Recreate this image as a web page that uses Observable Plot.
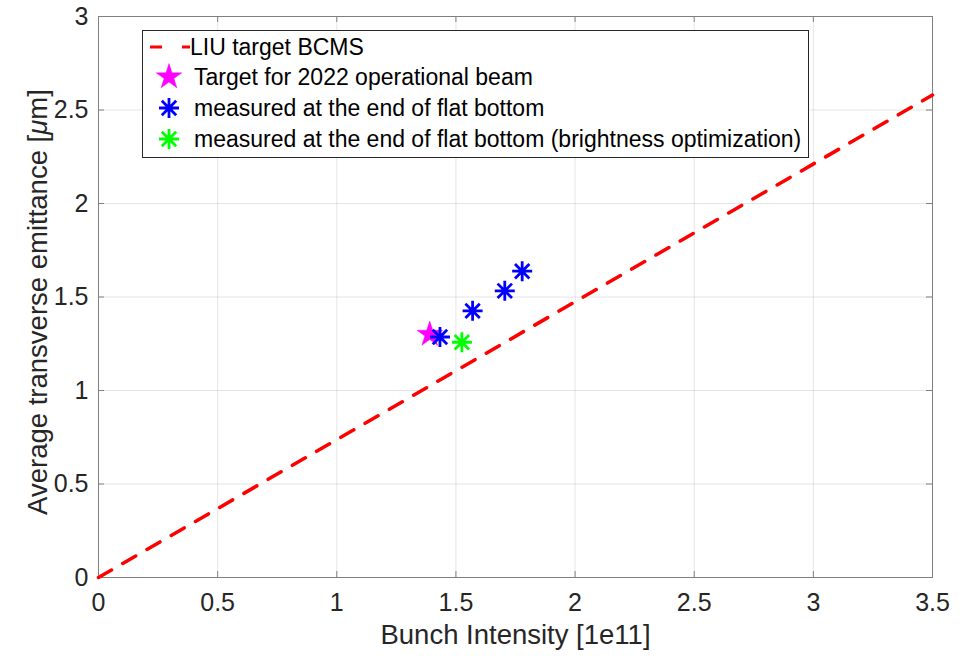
<!DOCTYPE html>
<html><head><meta charset="utf-8">
<script src="https://cdn.jsdelivr.net/npm/d3@7"></script>
<script src="https://cdn.jsdelivr.net/npm/@observablehq/plot@0.6"></script>
<style>body{margin:0;background:#fff;} #chart{width:970px;height:656px;}</style>
</head><body><div id="chart"></div>
<script>
// ---- data ----
const xTicks = [0, 0.5, 1, 1.5, 2, 2.5, 3, 3.5];
const xTickLabels = ["0", "0.5", "1", "1.5", "2", "2.5", "3", "3.5"];
const yTicks = [0, 0.5, 1, 1.5, 2, 2.5, 3];
const yTickLabels = ["0", "0.5", "1", "1.5", "2", "2.5", "3"];
const xTitle = "Bunch Intensity [1e11]";
const yTitle = "Average transverse emittance [μm]";

const liuX = [0, 3.5];
const liuY = [0, 2.58];
const targetX = [1.39];
const targetY = [1.30];
const measuredX = [1.433, 1.570, 1.705, 1.778];
const measuredY = [1.286, 1.426, 1.533, 1.638];
const brightX = [1.525];
const brightY = [1.258];

const legendLabels = [
  "LIU target BCMS",
  "Target for 2022 operational beam",
  "measured at the end of flat bottom",
  "measured at the end of flat bottom (brightness optimization)"
];
const seriesColors = ["#ff0000", "#ff00ff", "#0000ff", "#00ff00"];

// ---- build ----
const zip = (xs, ys) => xs.map((x, i) => ({x, y: ys[i]}));
const liu = zip(liuX, liuY);
const target = zip(targetX, targetY);
const measured = zip(measuredX, measuredY);
const bright = zip(brightX, brightY);

const asterisk = {
  draw(ctx, size) {
    const r = Math.sqrt(size / Math.PI);
    const d = r * 0.72;
    ctx.moveTo(-r, 0); ctx.lineTo(r, 0);
    ctx.moveTo(0, -r); ctx.lineTo(0, r);
    ctx.moveTo(-d, -d); ctx.lineTo(d, d);
    ctx.moveTo(-d, d); ctx.lineTo(d, -d);
  }
};

const W = 970, H = 656;
const mL = 98, mR = 38, mT = 16, mB = 79;
const plotW = W - mL - mR, plotH = H - mT - mB;
const tickLen = 6;
const axisGray = "#808080";
const textColor = "#262626";
const font = "'Liberation Sans', Arial, Helvetica, sans-serif";
const starR = 8, astR = 10;

const plot = Plot.plot({
  width: W, height: H,
  marginLeft: mL, marginRight: mR, marginTop: mT, marginBottom: mB,
  x: {domain: [0, 3.5]},
  y: {domain: [0, 3]},
  style: {fontFamily: font, background: "white", overflow: "visible"},
  marks: [
    Plot.gridX(xTicks, {stroke: "#000", strokeOpacity: 0.1}),
    Plot.gridY(yTicks, {stroke: "#000", strokeOpacity: 0.1}),
    Plot.frame({stroke: axisGray}),
    // inward ticks on all four sides
    Plot.tickX(xTicks, {x: d => d, insetTop: plotH - tickLen, stroke: axisGray}),
    Plot.tickX(xTicks, {x: d => d, insetBottom: plotH - tickLen, stroke: axisGray}),
    Plot.tickY(yTicks, {y: d => d, insetRight: plotW - tickLen, stroke: axisGray}),
    Plot.tickY(yTicks, {y: d => d, insetLeft: plotW - tickLen, stroke: axisGray}),
    Plot.axisX(xTicks, {tickSize: 0, tickPadding: 16, fontSize: 25, fill: textColor, label: null,
      tickFormat: d => xTickLabels[xTicks.indexOf(d)]}),
    Plot.axisY(yTicks, {tickSize: 0, tickPadding: 10, fontSize: 25, fill: textColor, label: null,
      tickFormat: d => yTickLabels[yTicks.indexOf(d)]}),
    Plot.text([xTitle], {text: d => d, frameAnchor: "bottom", textAnchor: "middle", lineAnchor: "middle",
      dy: 58, fontSize: 27.5, fill: textColor}),
    Plot.text([yTitle], {text: d => d, frameAnchor: "left", textAnchor: "middle", lineAnchor: "middle",
      rotate: -90, dx: -60, dy: 5, fontSize: 27.5, fill: textColor}),
    // data
    Plot.line(liu, {x: "x", y: "y", stroke: seriesColors[0], strokeWidth: 3.5, strokeDasharray: "15,13"}),
    Plot.dot(target, {x: "x", y: "y", symbol: "star", r: starR, fill: seriesColors[1], stroke: seriesColors[1], strokeWidth: 0.5}),
    Plot.dot(measured, {x: "x", y: "y", symbol: asterisk, r: astR, fill: "none", stroke: seriesColors[2], strokeWidth: 2.8}),
    Plot.dot(bright, {x: "x", y: "y", symbol: asterisk, r: astR, fill: "none", stroke: seriesColors[3], strokeWidth: 2.8})
  ]
});

document.getElementById("chart").appendChild(plot);

// italic mu in y title
const svg = d3.select(plot);
svg.selectAll("text").filter(function() { return this.textContent === yTitle; }).each(function() {
  const t = d3.select(this);
  const parts = yTitle.split("μ");
  t.text(null);
  t.append("tspan").text(parts[0]);
  t.append("tspan").attr("font-style", "italic").text("μ");
  t.append("tspan").text(parts[1]);
});

// legend box
const lg = svg.append("g").attr("font-family", font).attr("font-size", 23).attr("fill", "#000")
  .attr("text-anchor", "start");
const bx = 142.5, by = 30.5, bw = 666, bh = 127;
lg.append("rect").attr("x", bx).attr("y", by).attr("width", bw).attr("height", bh)
  .attr("fill", "white").attr("stroke", textColor).attr("stroke-width", 1);
const rowY = [47, 77, 108, 139];
const symX = 169;
const textX = 194;
// row 0: dashed line
lg.append("line").attr("x1", 150).attr("x2", 190).attr("y1", rowY[0]).attr("y2", rowY[0])
  .attr("stroke", seriesColors[0]).attr("stroke-width", 3.2).attr("stroke-dasharray", "12,20");
// row 1: star
lg.append("path").attr("transform", `translate(${symX},${rowY[1]})`)
  .attr("d", d3.symbol(d3.symbolStar, Math.PI * starR * starR)())
  .attr("fill", seriesColors[1]).attr("stroke", seriesColors[1]).attr("stroke-width", 0.5);
// rows 2,3: asterisks
[2, 3].forEach(i => {
  lg.append("path").attr("transform", `translate(${symX},${rowY[i]})`)
    .attr("d", d3.symbol(asterisk, Math.PI * astR * astR)())
    .attr("fill", "none").attr("stroke", seriesColors[i]).attr("stroke-width", 2.8);
});
legendLabels.forEach((lab, i) => {
  lg.append("text").attr("x", i === 0 ? 190 : textX).attr("y", rowY[i]).attr("dy", "0.35em")
    .attr("text-anchor", "start").text(lab);
});
</script>
</body></html>
